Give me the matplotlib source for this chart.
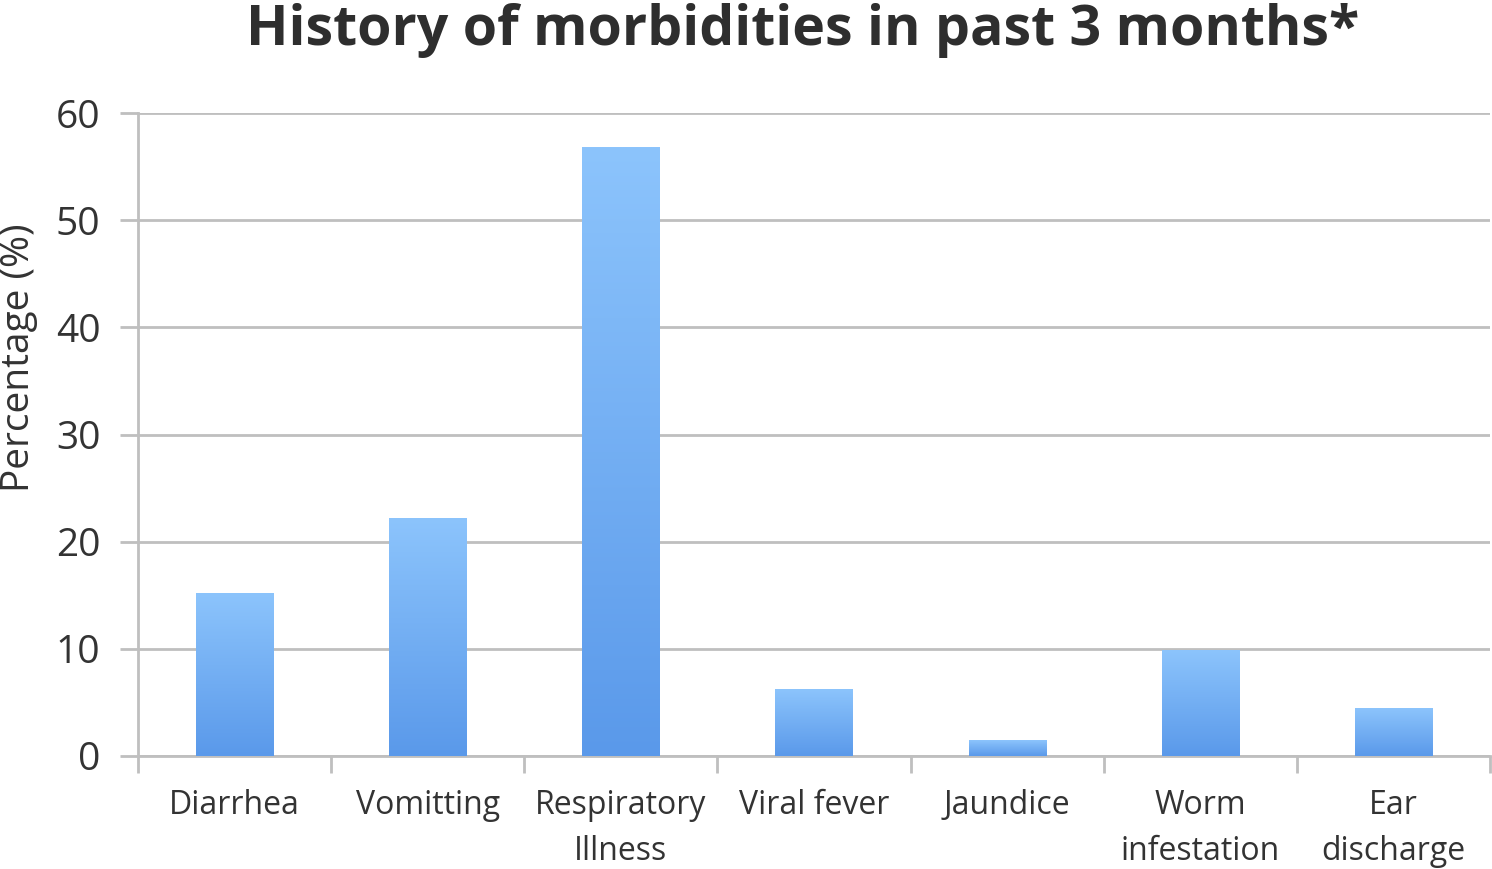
import numpy as np
import matplotlib

matplotlib.use("Agg")
import matplotlib.pyplot as plt
from matplotlib.colors import LinearSegmentedColormap

categories = ["Diarrhea", "Vomitting", "Respiratory\nIllness", "Viral fever",
              "Jaundice", "Worm\ninfestation", "Ear\ndischarge"]
values = [15.2, 22.2, 56.8, 6.2, 1.4, 9.8, 4.4]
y_ticks = [0, 10, 20, 30, 40, 50, 60]

plt.rcParams["font.family"] = ["Open Sans", "DejaVu Sans"]
TEXT = "#333333"
GRID = "#bfbfbf"

fig = plt.figure(figsize=(14.92, 8.69), dpi=100)
ax = fig.add_axes([138 / 1492, 1 - 756 / 869, (1490 - 138) / 1492, (756 - 113) / 869])

x = np.arange(len(categories))
width = 0.4
cmap = LinearSegmentedColormap.from_list("bar", ["#5a99ea", "#8cc4fc"])
grad = np.linspace(0, 1, 256).reshape(-1, 1)

bars = ax.bar(x, values, width=width, color="none", zorder=3)
for b in bars:
    x0, y0 = b.get_x(), b.get_y()
    ax.imshow(grad, cmap=cmap, aspect="auto", origin="lower",
              extent=[x0, x0 + b.get_width(), y0, y0 + b.get_height()],
              zorder=3)

ax.set_xlim(-0.5, len(categories) - 0.5)
ax.set_ylim(0, 60)
ax.set_yticks(y_ticks)
ax.yaxis.grid(True, color=GRID, linewidth=2, zorder=0)
ax.set_axisbelow(True)

ax.set_xticks(np.arange(len(categories) + 1) - 0.5, minor=False)
ax.set_xticklabels([])
ax.set_xticks(x, minor=True)
ax.set_xticklabels(categories, minor=True, fontsize=23, color=TEXT, linespacing=1.5)
ax.tick_params(axis="x", which="minor", length=0, pad=24)
ax.tick_params(axis="x", which="major", length=12, width=2, color=GRID)
ax.tick_params(axis="y", length=13, width=2, color=GRID, labelsize=28,
               labelcolor=TEXT, pad=14)

for s in ["top", "right"]:
    ax.spines[s].set_visible(False)
for s in ["left", "bottom"]:
    ax.spines[s].set_color(GRID)
    ax.spines[s].set_linewidth(2)

ax.set_ylabel("Percentage (%)", fontsize=28, color=TEXT)
ax.yaxis.set_label_coords(-0.074, 0.619)
fig.text(0.538, 0.965, "History of morbidities in past 3 months*", ha="center",
         va="center", fontsize=40, fontweight="bold", color="#2e2e2e")

fig.savefig("out.png", dpi=100)
